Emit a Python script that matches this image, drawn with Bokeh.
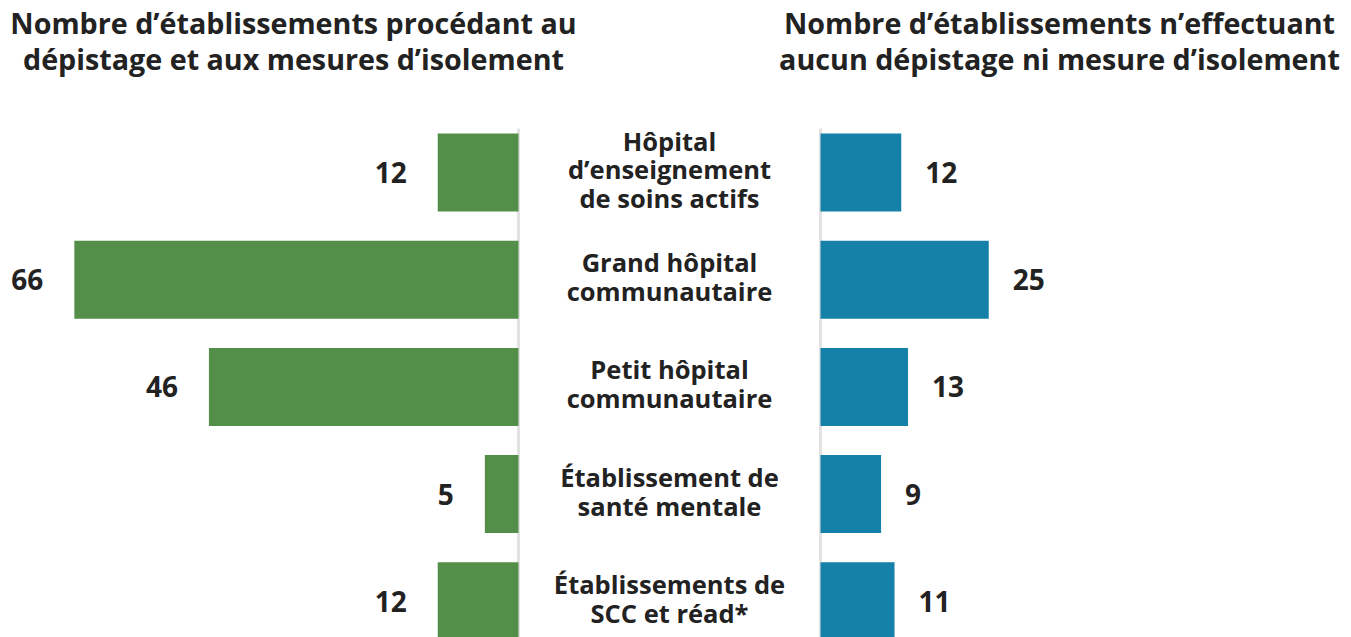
from bokeh.plotting import figure
from bokeh.models import Range1d, Label, ColumnDataSource
from bokeh.core.properties import value
from bokeh.embed import file_html
from bokeh.resources import INLINE

categories = [
    "Hôpital\nd’enseignement\nde soins actifs",
    "Grand hôpital\ncommunautaire",
    "Petit hôpital\ncommunautaire",
    "Établissement de\nsanté mentale",
    "Établissements de\nSCC et réad*",
]
depistage = [12, 66, 46, 5, 12]
aucun = [12, 25, 13, 9, 11]
title_left = "Nombre d’établissements procédant au\ndépistage et aux mesures d’isolement"
title_right = "Nombre d’établissements n’effectuant\naucun dépistage ni mesure d’isolement"

W, H = 1351, 637
PX = 6.73          # pixels per unit
X0L, X0R = 518, 820  # pixel origins of left and right panels
ROW0, ROWSTEP = 172, 107.2

rows = list(range(len(categories)))
src = ColumnDataSource(dict(
    y=rows,
    left_val=[-v for v in depistage],
    right_val=aucun,
    left_txt=[str(v) for v in depistage],
    right_txt=[str(v) for v in aucun],
    cat=categories,
))

p = figure(width=W, height=H, output_backend="svg", toolbar_location=None,
           min_border=0, outline_line_color=None)
p.x_range = Range1d(-X0L / PX, (W - X0L) / PX)
p.extra_x_ranges = {"right": Range1d(-X0R / PX, (W - X0R) / PX)}
p.y_range = Range1d((H - ROW0) / ROWSTEP, -ROW0 / ROWSTEP)
p.axis.visible = False
p.grid.visible = False
p.background_fill_color = "white"
p.border_fill_color = "white"

FONT = value("Open Sans")
GREEN = "#548f4a"
BLUE = "#1581a8"
TXT = "#222222"

# vertical divider lines
top = (128 - ROW0) / ROWSTEP
bot = (H - ROW0) / ROWSTEP + 0.1
p.segment(x0=[0], x1=[0], y0=[top], y1=[bot], line_color="#e2e2e2", line_width=3)
p.segment(x0=[0], x1=[0], y0=[top], y1=[bot], line_color="#e2e2e2", line_width=3,
          x_range_name="right")

bh = 78 / ROWSTEP
p.hbar(y="y", left="left_val", right=0, height=bh, source=src,
       fill_color=GREEN, line_color=None)
p.hbar(y="y", left=0, right="right_val", height=bh, source=src,
       fill_color=BLUE, line_color=None, x_range_name="right")

p.text(x="left_val", y="y", text="left_txt", source=src, x_offset=-31,
       text_align="right", text_baseline="middle", text_font=FONT,
       text_font_style="bold", text_font_size="28px", text_color=TXT)
p.text(x="right_val", y="y", text="right_txt", source=src, x_offset=24,
       text_align="left", text_baseline="middle", text_font=FONT,
       text_font_style="bold", text_font_size="28px", text_color=TXT,
       x_range_name="right")

mid = ((X0L + X0R) / 2 - X0L) / PX
p.text(x=mid, y="y", text="cat", source=src, text_align="center",
       text_baseline="middle", text_font=FONT, text_font_style="bold",
       text_font_size="25.5px", text_line_height=0.85, text_color=TXT,
       y_offset=-3)

for t, cx in [(title_left, 293), (title_right, 1059)]:
    p.add_layout(Label(x=cx, y=H - 40, x_units="screen", y_units="screen", text=t,
                       text_align="center", text_baseline="middle",
                       text_font="Open Sans", text_font_style="bold",
                       text_font_size="28.7px", text_line_height=0.9,
                       text_color=TXT))

open("out.html", "w").write(file_html(p, INLINE))
